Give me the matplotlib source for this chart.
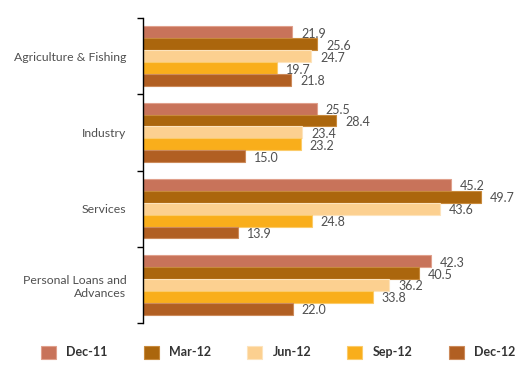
import matplotlib
matplotlib.use("Agg")
import matplotlib.pyplot as plt
import numpy as np

plt.rcParams['font.family'] = ['Lato', 'DejaVu Sans']

categories = ["Agriculture & Fishing", "Industry", "Services", "Personal Loans and\nAdvances"]
series = ["Dec-11", "Mar-12", "Jun-12", "Sep-12", "Dec-12"]
values = {
    "Dec-11": [21.9, 25.5, 45.2, 42.3],
    "Mar-12": [25.6, 28.4, 49.7, 40.5],
    "Jun-12": [24.7, 23.4, 43.6, 36.2],
    "Sep-12": [19.7, 23.2, 24.8, 33.8],
    "Dec-12": [21.8, 15.0, 13.9, 22.0],
}
colors = ["#C8735A", "#AB660D", "#FCD090", "#F9AE1B", "#B15F22"]
edges = ["#E0A08C", "#C88A3C", "#FDE3BC", "#FBCB6A", "#CC8A5A"]

fig = plt.figure(figsize=(5.2, 3.68), dpi=100)
ax = fig.add_axes([0.275, 0.122, 0.72, 0.829])

n = len(series)
h = 0.78 / n
y = np.arange(len(categories))
txt = "#505050"
for j, s in enumerate(series):
    pos = y + (j - (n - 1) / 2) * h
    ax.barh(pos, values[s], height=h, color=colors[j], edgecolor=edges[j],
            linewidth=0.8, label=s)
    for p, v in zip(pos, values[s]):
        ax.text(v + 1.3, p + 0.02, "%.1f" % v, va="center", ha="left",
                fontsize=9, color=txt)

ax.set_xlim(0, 55)
ax.set_ylim(len(categories) - 0.5, -0.5)
ax.set_yticks(y)
ax.set_yticklabels(categories, fontsize=8.8, color=txt, ha="right")
ax.tick_params(axis="y", which="major", length=0, pad=12)
ax.set_yticks(np.arange(len(categories) + 1) - 0.5, minor=True)
ax.tick_params(axis="y", which="minor", length=4, width=1, color="black", direction="out")
ax.set_xticks([])
for sp in ["top", "right", "bottom"]:
    ax.spines[sp].set_visible(False)
ax.spines["left"].set_linewidth(1.0)

leg = fig.legend(loc="lower center", ncol=5, bbox_to_anchor=(0.535, -0.005),
                 frameon=False, handlelength=1.2, handleheight=1.2,
                 columnspacing=2.9, handletextpad=0.8,
                 prop={"size": 9, "weight": "bold"})
for t in leg.get_texts():
    t.set_color("#333333")

fig.savefig("out.png", dpi=100)
